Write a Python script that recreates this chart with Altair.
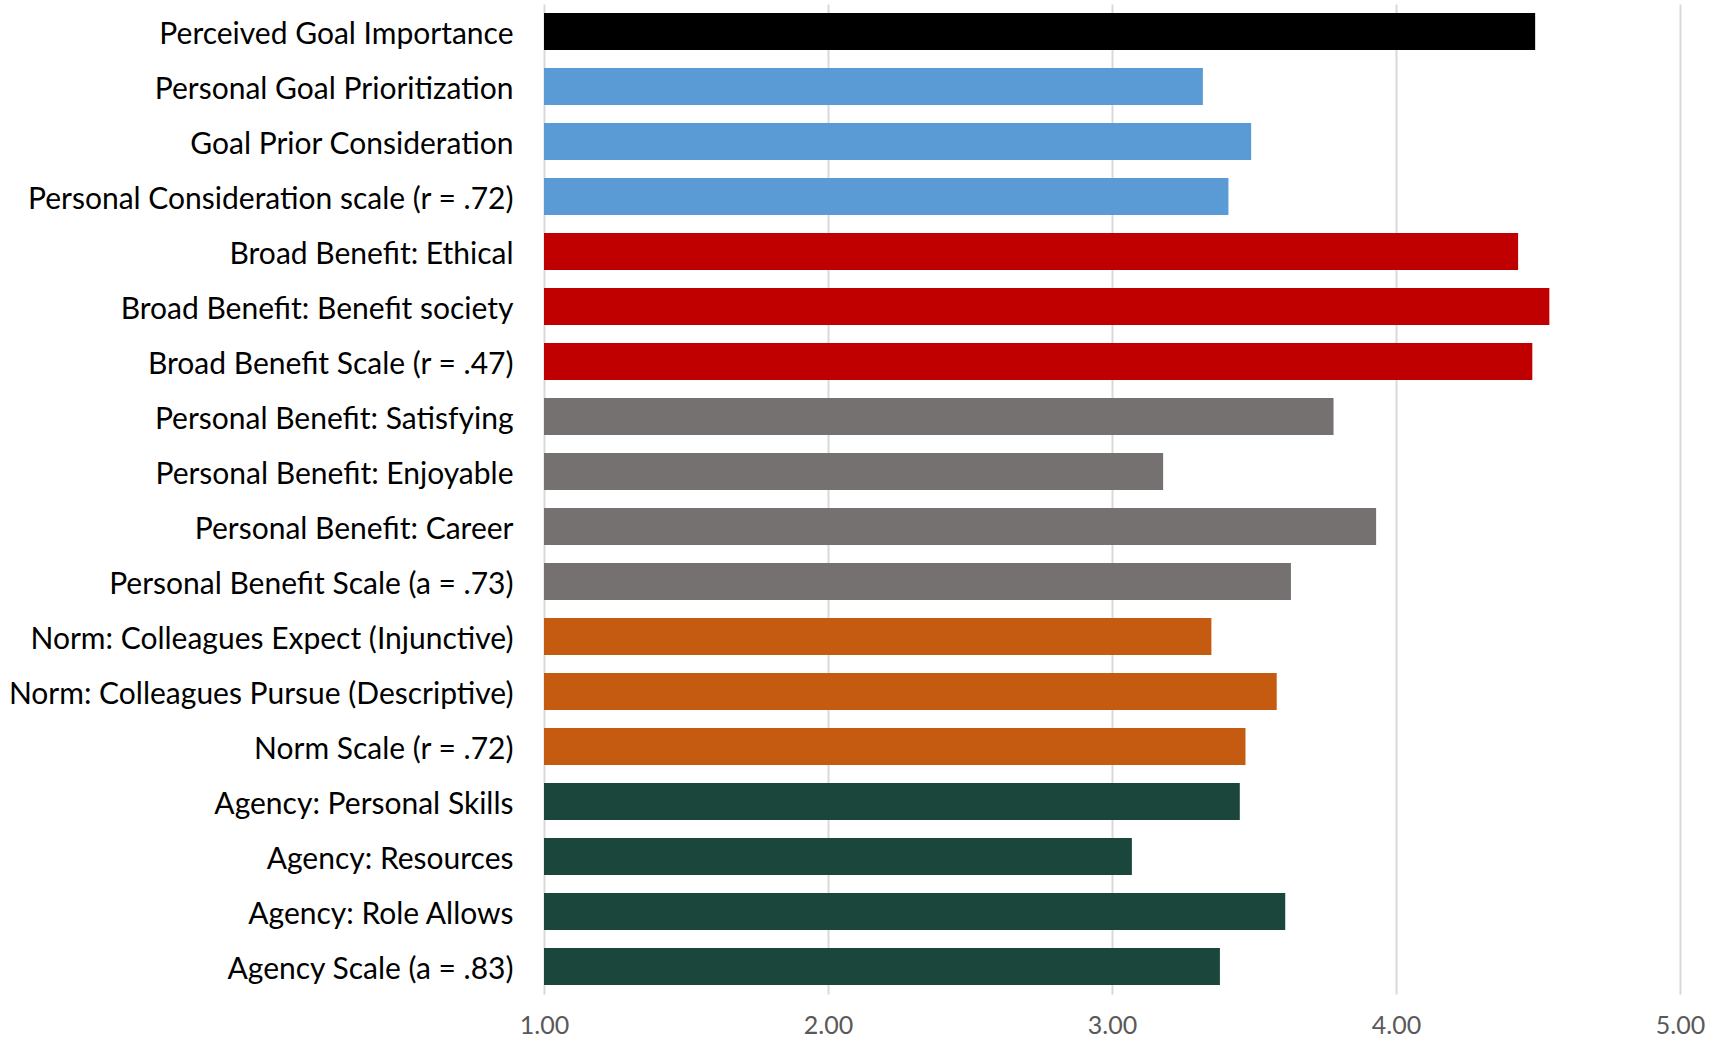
import altair as alt
import pandas as pd

# Survey items, top to bottom, with their mean ratings and group
items = [
    "Perceived Goal Importance",
    "Personal Goal Prioritization",
    "Goal Prior Consideration",
    "Personal Consideration scale (r = .72)",
    "Broad Benefit: Ethical",
    "Broad Benefit: Benefit society",
    "Broad Benefit Scale (r = .47)",
    "Personal Benefit: Satisfying",
    "Personal Benefit: Enjoyable",
    "Personal Benefit: Career",
    "Personal Benefit Scale (a = .73)",
    "Norm: Colleagues Expect (Injunctive)",
    "Norm: Colleagues Pursue (Descriptive)",
    "Norm Scale (r = .72)",
    "Agency: Personal Skills",
    "Agency: Resources",
    "Agency: Role Allows",
    "Agency Scale (a = .83)",
]
means = [4.49, 3.32, 3.49, 3.41, 4.43, 4.54, 4.48, 3.78, 3.18, 3.93, 3.63,
         3.35, 3.58, 3.47, 3.45, 3.07, 3.61, 3.38]
groups = ["Importance"] + ["Consideration"] * 3 + ["Broad"] * 3 + ["Personal"] * 4 \
         + ["Norm"] * 3 + ["Agency"] * 4

group_names = ["Importance", "Consideration", "Broad", "Personal", "Norm", "Agency"]
group_colors = ["#000000", "#5B9BD5", "#C00000", "#767171", "#C55A11", "#1A463C"]

x_ticks = [1, 2, 3, 4, 5]
x_min, x_max = 1, 5

df = pd.DataFrame({"item": items, "mean": means, "group": groups})

chart = (
    alt.Chart(df)
    .mark_bar()
    .encode(
        y=alt.Y(
            "item:N",
            sort=items,
            title=None,
            scale=alt.Scale(paddingInner=0.33, paddingOuter=0.165),
            axis=alt.Axis(
                domain=False,
                ticks=False,
                labelFont="Lato",
                labelFontSize=30,
                labelColor="#000000",
                labelPadding=31,
                labelOffset=3,
                labelLimit=0,
            ),
        ),
        x=alt.X(
            "mean:Q",
            title=None,
            scale=alt.Scale(domain=[x_min, x_max], nice=False, zero=False),
            axis=alt.Axis(
                values=x_ticks,
                format=".2f",
                domain=False,
                ticks=False,
                grid=True,
                gridColor="#D9D9D9",
                gridWidth=2,
                labelFont="Lato",
                labelFontSize=25,
                labelColor="#595959",
                labelPadding=19,
                labelFlush=False,
            ),
        ),
        x2=alt.datum(x_min),
        color=alt.Color(
            "group:N",
            scale=alt.Scale(domain=group_names, range=group_colors),
            legend=None,
        ),
    )
    .properties(
        width=1136,
        height=990,
        autosize=alt.AutoSizeParams(type="none"),
        padding={"left": 544, "top": 4, "right": 29, "bottom": 44},
    )
    .configure(background="#FFFFFF", view=alt.ViewConfig(stroke=None))
)

chart.save("out.html", embed_options={"renderer": "svg", "actions": False})
